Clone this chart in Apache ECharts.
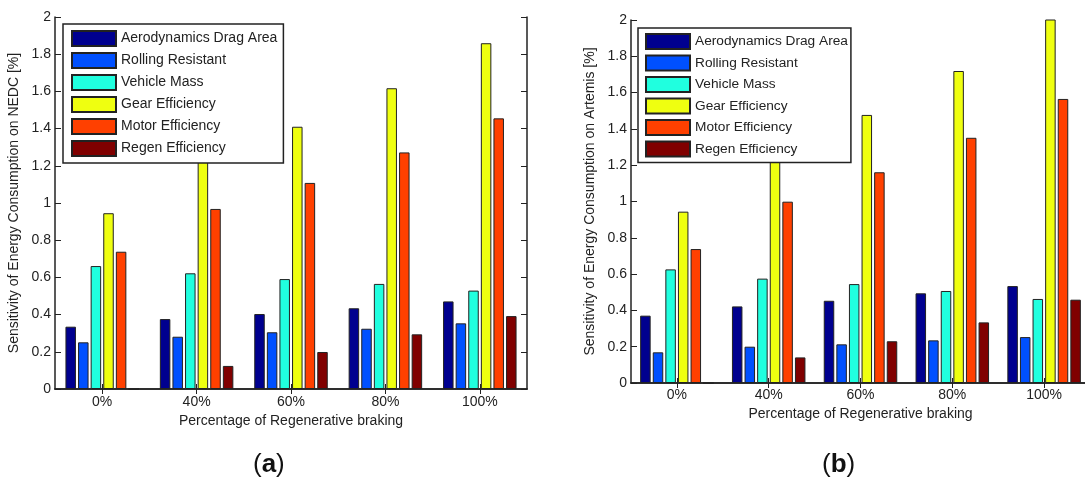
<!DOCTYPE html>
<html><head><meta charset="utf-8">
<script src="https://cdn.jsdelivr.net/npm/echarts@6/dist/echarts.min.js"></script>
<style>html,body{margin:0;padding:0;background:#fff;overflow:hidden;width:1085px;height:477px}#c{width:1100px;height:477px}</style>
</head><body><div id="c"></div>
<script>
const categories = ['0%', '40%', '60%', '80%', '100%'];
const seriesNames = ['Aerodynamics Drag Area', 'Rolling Resistant', 'Vehicle Mass', 'Gear Efficiency', 'Motor Efficiency', 'Regen Efficiency'];
const colors = ['#00008F', '#0050FF', '#20FFDF', '#EFFF10', '#FF4000', '#800000'];
// (a) NEDC
const nedcAero    = [0.335, 0.376, 0.403, 0.434, 0.471];
const nedcRolling = [0.251, 0.281, 0.305, 0.324, 0.353];
const nedcMass    = [0.661, 0.622, 0.591, 0.565, 0.529];
const nedcGear    = [0.945, 1.237, 1.410, 1.617, 1.859];
const nedcMotor   = [0.738, 0.968, 1.108, 1.272, 1.455];
const nedcRegen   = [0, 0.124, 0.199, 0.294, 0.392];
// (b) Artemis
const artAero    = [0.371, 0.422, 0.453, 0.494, 0.534];
const artRolling = [0.169, 0.200, 0.213, 0.235, 0.253];
const artMass    = [0.626, 0.575, 0.545, 0.507, 0.463];
const artGear    = [0.944, 1.300, 1.477, 1.719, 2.050];
const artMotor   = [0.738, 0.999, 1.161, 1.351, 1.565];
const artRegen   = [0, 0.141, 0.230, 0.334, 0.459];
const yTicks = [0, 0.2, 0.4, 0.6, 0.8, 1, 1.2, 1.4, 1.6, 1.8, 2];

const nedc = [nedcAero, nedcRolling, nedcMass, nedcGear, nedcMotor, nedcRegen];
const art = [artAero, artRolling, artMass, artGear, artMotor, artRegen];

const FONT = 'Liberation Sans, Arial, sans-serif';
const axisLine = {show: true, lineStyle: {color: '#222', width: 1.5}};

function xAxes(gi) {
  return [
    {type: 'category', gridIndex: gi, data: categories, position: 'bottom',
     axisLine: axisLine, axisTick: {show: true, inside: true, alignWithLabel: true, length: 5, lineStyle: {color: '#222'}},
     axisLabel: {color: '#222', fontSize: 14, fontFamily: FONT, margin: gi === 0 ? 6 : 5},
     name: 'Percentage of Regenerative braking', nameLocation: 'middle', nameGap: gi === 0 ? 25 : 23,
     nameTextStyle: {color: '#222', fontSize: 14, fontFamily: FONT}},
    {type: 'category', gridIndex: gi, data: categories, position: 'top',
     axisLine: axisLine, axisTick: {show: true, inside: true, alignWithLabel: true, length: 5, lineStyle: {color: '#222'}},
     axisLabel: {show: false}}
  ];
}
function yAxes(gi, name) {
  return [
    {type: 'value', gridIndex: gi, min: 0, max: 2, interval: 0.2, position: 'left',
     axisLine: axisLine, axisTick: {show: true, inside: true, length: 6, lineStyle: {color: '#222'}},
     splitLine: {show: false},
     axisLabel: {color: '#222', fontSize: 14, fontFamily: FONT, margin: 4,
       formatter: v => { const t = yTicks.find(x => Math.abs(x - v) < 1e-9); return t === undefined ? '' : String(t); }},
     name: name, nameLocation: 'middle', nameGap: 34, nameRotate: 90,
     nameTextStyle: {color: '#222', fontSize: 14, fontFamily: FONT}},
    {type: 'value', gridIndex: gi, min: 0, max: 2, interval: 0.2, position: 'right',
     axisLine: axisLine, axisTick: {show: gi === 0, inside: true, length: 6, lineStyle: {color: '#222'}},
     splitLine: {show: false}, axisLabel: {show: false}}
  ];
}

const series = [];
[nedc, art].forEach((set, gi) => {
  set.forEach((vals, i) => {
    series.push({
      type: 'bar', name: seriesNames[i], data: vals,
      xAxisIndex: gi * 2, yAxisIndex: gi * 2,
      barWidth: 10.5, barGap: '20%',
      itemStyle: {color: colors[i], borderColor: '#222', borderWidth: 1},
      emphasis: {disabled: true}, animation: false
    });
  });
});

function legend(left, top, padding, gap, fs) {
  return {
    data: seriesNames, orient: 'vertical', left: left, top: top, icon: 'rect',
    itemWidth: 44, itemHeight: 15, itemGap: gap, padding: padding,
    backgroundColor: '#fff', borderColor: '#222', borderWidth: 1.5,
    textStyle: {color: '#222', fontSize: fs, lineHeight: 15, fontFamily: FONT},
    selectedMode: false
  };
}

const chart = echarts.init(document.getElementById('c'), null, {renderer: 'canvas'});
chart.setOption({
  animation: false,
  grid: [
    {left: 55, top: 17, width: 472, height: 372},
    {left: 631, top: 20, width: 459, height: 363}
  ],
  xAxis: [...xAxes(0), ...xAxes(1)],
  yAxis: [...yAxes(0, 'Sensitivity of Energy Consumption on NEDC [%]'), ...yAxes(1, 'Sensitivity of Energy Consumption on Artemis [%]')],
  legend: [legend(63, 24, [6, 6, 6, 8], 5, 14), legend(638, 28, [5, 3, 5, 7], 4.5, 13.7)],
  series: series,
  graphic: [
    {type: 'text', left: 253, top: 452, style: {text: '{p|(}{b|a}{p|)}', rich: {p: {fontSize: 26, fontFamily: FONT, fill: '#111'}, b: {fontSize: 26, fontWeight: 'bold', fontFamily: FONT, fill: '#111'}}}},
    {type: 'text', left: 822, top: 452, style: {text: '{p|(}{b|b}{p|)}', rich: {p: {fontSize: 26, fontFamily: FONT, fill: '#111'}, b: {fontSize: 26, fontWeight: 'bold', fontFamily: FONT, fill: '#111'}}}}
  ]
});
</script></body></html>
